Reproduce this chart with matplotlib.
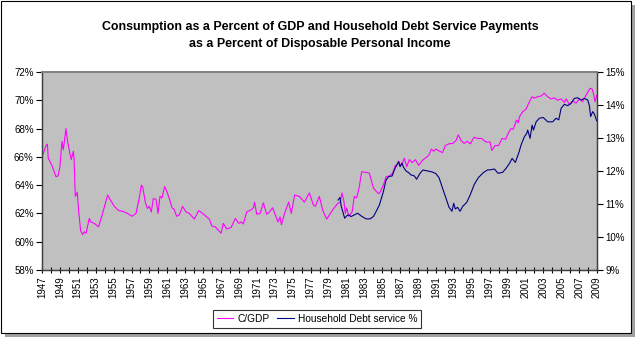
import matplotlib
matplotlib.use("Agg")
import matplotlib.pyplot as plt
from matplotlib.patches import Rectangle
from matplotlib.ticker import FuncFormatter

plt.rcParams['font.family'] = ['Liberation Sans', 'DejaVu Sans']

# C/GDP (left axis, %)
cgdp_years = [1947.0, 1947.45, 1947.6, 1947.7, 1948.1, 1948.56, 1948.79, 1949.0, 1949.23, 1949.38,
              1949.68, 1949.83, 1950.13, 1950.27, 1950.5, 1950.58, 1950.72, 1950.94, 1951.09, 1951.31,
              1951.54, 1951.73, 1951.92, 1952.28, 1952.47, 1952.84, 1953.32, 1953.77, 1954.33, 1954.6,
              1955.08, 1955.56, 1956.0, 1956.56, 1957.06, 1957.5, 1957.87, 1958.1, 1958.24, 1958.54,
              1958.77, 1958.99, 1959.21, 1959.43, 1959.74, 1959.96, 1960.18, 1960.4, 1960.7, 1960.92,
              1961.22, 1961.52, 1961.75, 1962.04, 1962.34, 1962.71, 1963.09, 1963.46, 1964.02, 1964.5,
              1964.94, 1965.69, 1965.99, 1966.36, 1967.0, 1967.26, 1967.63, 1968.12, 1968.6, 1968.97,
              1969.27, 1969.49, 1969.86, 1970.35, 1970.61, 1970.75, 1970.98, 1971.36, 1971.73, 1972.1,
              1972.4, 1972.77, 1973.15, 1973.37, 1973.59, 1973.74, 1974.1, 1974.55, 1974.85, 1975.22,
              1975.75, 1976.31, 1976.87, 1977.31, 1977.54, 1977.98, 1978.35, 1978.8, 1979.47, 1980.03,
              1980.3, 1980.52, 1980.74, 1980.89, 1981.03, 1981.26, 1981.64, 1981.89, 1982.15, 1982.45,
              1982.71, 1983.2, 1983.57, 1984.02, 1984.5, 1984.69, 1985.13, 1985.44, 1985.81, 1986.17,
              1986.47, 1986.62, 1986.84, 1987.07, 1987.29, 1987.48, 1987.74, 1988.04, 1988.34, 1988.71,
              1989.08, 1989.5, 1989.9, 1990.2, 1990.5, 1990.75, 1991.0, 1991.4, 1991.75, 1992.05,
              1992.5, 1992.9, 1993.25, 1993.5, 1993.82, 1994.18, 1994.5, 1994.85, 1995.25, 1995.7,
              1996.1, 1996.6, 1997.05, 1997.25, 1997.6, 1998.0, 1998.4, 1998.8, 1999.13, 1999.4,
              1999.65, 2000.0, 2000.2, 2000.34, 2000.7, 2001.08, 2001.45, 2001.75, 2002.0, 2002.37,
              2002.75, 2003.1, 2003.5, 2003.87, 2004.25, 2004.6, 2005.0, 2005.36, 2005.55, 2005.92,
              2006.3, 2006.66, 2007.04, 2007.4, 2007.78, 2008.23, 2008.45, 2008.6, 2008.78, 2008.97]
cgdp_vals = [66.0, 66.8, 66.9, 65.9, 65.4, 64.6, 64.65, 65.3, 67.1, 66.5,
             68.0, 67.2, 66.2, 65.8, 66.4, 65.9, 63.2, 63.5, 62.2, 60.8,
             60.5, 60.7, 60.6, 61.65, 61.4, 61.3, 61.05, 62.0, 63.3, 63.0,
             62.5, 62.2, 62.15, 62.0, 61.8, 62.0, 63.1, 64.0, 63.9, 62.8,
             62.35, 62.5, 62.1, 63.05, 63.0, 62.0, 63.2, 63.1, 63.9, 63.6,
             63.05, 62.4, 62.3, 61.8, 61.9, 62.5, 62.1, 62.0, 61.6, 62.2,
             62.0, 61.6, 61.1, 61.05, 60.6, 61.3, 60.9, 61.0, 61.65, 61.3,
             61.4, 61.25, 62.1, 62.25, 62.4, 62.8, 61.95, 62.0, 62.75, 61.95,
             62.1, 62.4, 61.75, 61.4, 61.75, 61.2, 62.0, 62.8, 62.0, 63.3,
             63.2, 62.8, 63.45, 62.6, 62.5, 63.2, 62.25, 61.6, 62.25, 62.7,
             62.8, 63.45, 62.8, 62.0, 62.4, 61.8, 62.1, 63.2, 63.1, 63.9,
             64.95, 64.9, 64.85, 63.8, 63.45, 63.4, 64.0, 64.6, 64.65, 64.85,
             65.4, 65.35, 65.7, 65.35, 65.6, 65.9, 65.3, 65.8, 65.6, 65.8,
             65.4, 65.75, 65.95, 66.1, 66.55, 66.4, 66.55, 66.4, 66.3, 66.8,
             66.93, 66.95, 67.15, 67.55, 67.15, 66.95, 67.1, 66.92, 67.38, 67.3,
             67.3, 67.05, 67.05, 66.45, 66.8, 66.8, 67.3, 67.25, 67.73, 68.0,
             67.95, 68.6, 68.4, 68.84, 69.19, 69.38, 69.9, 70.25, 70.15, 70.25,
             70.3, 70.5, 70.25, 70.1, 70.17, 70.0, 70.1, 69.85, 70.1, 69.7,
             69.95, 69.8, 70.1, 69.9, 70.37, 70.85, 70.8, 70.5, 69.9, 70.37]

# Household debt service (right axis, %)
debt_years = [1980.07, 1980.3, 1980.41, 1980.81, 1981.03, 1981.26, 1981.53, 1982.26, 1982.75, 1983.2,
              1983.65, 1984.02, 1984.32, 1984.69, 1985.13, 1985.44, 1985.73, 1986.11, 1986.36, 1986.62,
              1986.84, 1987.0, 1987.22, 1987.37, 1987.67, 1987.96, 1988.23, 1988.6, 1988.85, 1989.2,
              1989.55, 1990.1, 1990.6, 1991.0, 1991.35, 1991.72, 1992.1, 1992.47, 1992.8, 1992.99,
              1993.17, 1993.43, 1993.7, 1994.0, 1994.45, 1994.87, 1995.3, 1995.75, 1996.3, 1996.75,
              1997.17, 1997.54, 1997.95, 1998.46, 1998.84, 1999.22, 1999.52, 1999.88, 2000.25, 2000.52,
              2000.89, 2001.15, 2001.26, 2001.52, 2001.75, 2001.9, 2002.2, 2002.57, 2003.0, 2003.5,
              2004.05, 2004.43, 2004.73, 2004.99, 2005.36, 2005.73, 2006.1, 2006.47, 2006.84, 2007.2,
              2007.6, 2007.96, 2008.15, 2008.29, 2008.52, 2008.7, 2008.97]
debt_vals = [11.12, 11.2, 10.95, 10.57, 10.64, 10.67, 10.62, 10.72, 10.62, 10.55,
             10.55, 10.62, 10.77, 10.97, 11.37, 11.73, 11.83, 11.85, 12.03, 12.18,
             12.28, 12.13, 12.24, 12.12, 12.0, 11.95, 11.88, 11.85, 11.75, 11.92,
             12.03, 12.0, 11.97, 11.92, 11.8, 11.5, 11.2, 10.9, 10.78, 11.02,
             10.85, 10.9, 10.78, 10.93, 11.05, 11.3, 11.6, 11.8, 11.95, 12.03,
             12.04, 12.06, 11.93, 11.96, 12.08, 12.23, 12.38, 12.26, 12.54, 12.79,
             13.04, 13.14, 13.24, 12.99, 13.39, 13.24, 13.49, 13.6, 13.62, 13.49,
             13.49, 13.6, 13.55, 13.9, 14.02, 13.98, 14.05, 14.2, 14.22, 14.15,
             14.2, 14.15, 13.98, 13.65, 13.8, 13.73, 13.52]

year_ticks = list(range(1947, 2010))
title = ("Consumption as a Percent of GDP and Household Debt Service Payments\n"
         "as a Percent of Disposable Personal Income")

fig = plt.figure(figsize=(6.44, 3.39), dpi=100)

# chart frame with a soft shadow
fig.patches.append(Rectangle((5 / 644, 1 - 337 / 339), 630 / 644, 332 / 339, transform=fig.transFigure,
                             facecolor='#a0a0a0', edgecolor='none', zorder=-3))
fig.patches.append(Rectangle((1 / 644, 1 - 333 / 339), 630 / 644, 332 / 339, transform=fig.transFigure,
                             facecolor='white', edgecolor='black', linewidth=0.8, zorder=-2))

ax = fig.add_axes([42 / 644, 1 - 270 / 339, 555 / 644, 198 / 339])
ax.set_facecolor('#c0c0c0')
ax.plot(cgdp_years, cgdp_vals, color='#ff00ff', linewidth=0.8, label='C/GDP')
ax.set_xlim(1947, 2009)
ax.set_ylim(58, 72)
ax.set_yticks(range(58, 73, 2))
ax.yaxis.set_major_formatter(FuncFormatter(lambda v, p: f"{v:.0f}%"))
ax.set_xticks(year_ticks)
ax.set_xticklabels([str(y) if (y - 1947) % 2 == 0 else '' for y in year_ticks],
                   rotation=90, fontsize=7)
ax.tick_params(axis='x', direction='inout', length=5, width=0.8, pad=2)
ax.tick_params(axis='y', direction='out', length=4, width=0.8, labelsize=7, pad=2)

ax2 = ax.twinx()
ax2.plot(debt_years, debt_vals, color='#000080', linewidth=0.8, label='Household Debt service %')
ax2.set_ylim(9, 15)
ax2.set_yticks(range(9, 16))
ax2.yaxis.set_major_formatter(FuncFormatter(lambda v, p: f"{v:.0f}%"))
ax2.tick_params(axis='y', direction='out', length=4, width=0.8, labelsize=7, pad=2)

for a in (ax, ax2):
    a.spines['top'].set_color('#808080')
    a.spines['top'].set_linewidth(1.2)
    for s in ('left', 'right', 'bottom'):
        a.spines[s].set_color('#404040')
        a.spines[s].set_linewidth(0.9)

fig.text(320 / 644, 1 - 35.5 / 339, title, ha='center', va='center', fontsize=8.9,
         fontweight='bold', linespacing=1.55)

h1, l1 = ax.get_legend_handles_labels()
h2, l2 = ax2.get_legend_handles_labels()
leg = fig.legend(h1 + h2, l1 + l2, loc='center', bbox_to_anchor=(317 / 644, 1 - 319 / 339),
                 ncol=2, fontsize=7.3, frameon=True, fancybox=False, handlelength=1.6,
                 handletextpad=0.4, columnspacing=0.8, borderpad=0.4)
leg.get_frame().set_edgecolor('black')
leg.get_frame().set_linewidth(0.8)

fig.savefig('out.png', dpi=100)
